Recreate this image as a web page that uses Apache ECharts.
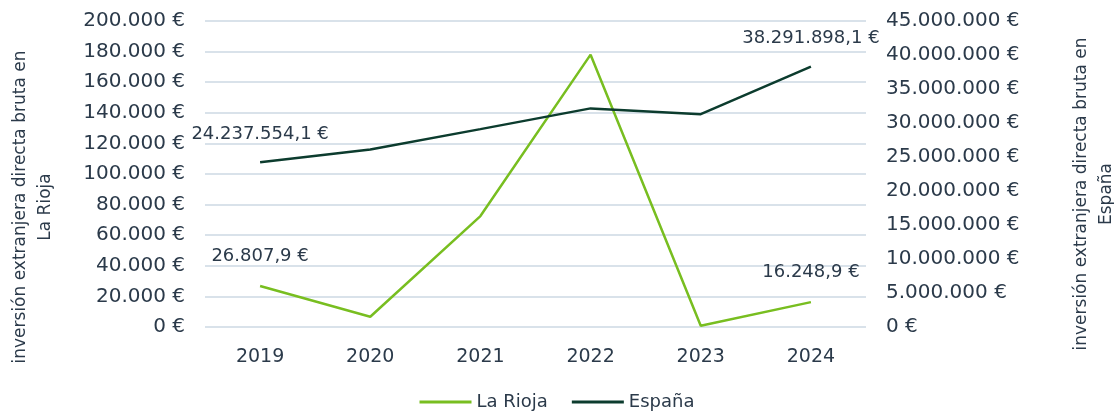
<!DOCTYPE html>
<html>
<head>
<meta charset="utf-8">
<script src="https://cdn.jsdelivr.net/npm/echarts@6/dist/echarts.min.js"></script>
<style>
  html, body { margin: 0; padding: 0; background: #fff; }
  #main { width: 1114px; height: 415px; }
</style>
</head>
<body>
<div id="main"></div>
<script>
// datos
var years = ['2019', '2020', '2021', '2022', '2023', '2024'];
var laRioja = [26807.9, 6700, 72500, 178000, 850, 16248.9];
var espana = [24237554.1, 26100000, 29100000, 32150000, 31300000, 38291898.1];
var leftTicks = { min: 0, max: 200000, interval: 20000 };
var rightTicks = { min: 0, max: 45000000, interval: 5000000 };

var textColor = '#2b3a4a';
var font = 'DejaVu Sans';

function fmt(v, dec) {
    var parts = Number(v).toFixed(dec).split('.');
    var ent = parts[0].replace(/\B(?=(\d{3})+(?!\d))/g, '.');
    return (parts[1] ? ent + ',' + parts[1] : ent) + ' €';
}

// solo se etiquetan el primer y el último punto
function labelFn(p) {
    if (p.dataIndex === 0 || p.dataIndex === years.length - 1) return fmt(p.value, 1);
    return '';
}

var myChart = echarts.init(document.getElementById('main'));
myChart.setOption({
    animation: false,
    textStyle: { fontFamily: font, color: textColor },
    grid: { left: 205, right: 248, top: 21, bottom: 88, containLabel: false, outerBoundsMode: 'none' },
    legend: {
        top: 393,
        left: 'center',
        itemWidth: 52,
        itemHeight: 3,
        itemGap: 24,
        padding: 0,
        icon: 'rect',
        textStyle: { fontSize: 18, color: textColor, fontFamily: font },
        data: ['La Rioja', 'España']
    },
    xAxis: {
        type: 'category',
        data: years,
        axisLine: { show: false },
        axisTick: { show: false },
        axisLabel: { fontSize: 19, color: textColor, margin: 21 }
    },
    yAxis: [
        {
            type: 'value',
            min: leftTicks.min, max: leftTicks.max, interval: leftTicks.interval,
            name: 'inversión extranjera directa bruta en\nLa Rioja',
            nameLocation: 'middle',
            nameRotate: 90,
            nameGap: 147,
            nameTextStyle: { fontSize: 17, color: textColor, lineHeight: 25, padding: [0, 66, 0, 0] },
            axisLabel: { fontSize: 20, color: textColor, margin: 20, formatter: function (v) { return fmt(v, 0); } },
            splitLine: { lineStyle: { color: '#d9e2ea', width: 2 } }
        },
        {
            type: 'value',
            min: rightTicks.min, max: rightTicks.max, interval: rightTicks.interval,
            name: 'inversión extranjera directa bruta en\nEspaña',
            nameLocation: 'middle',
            nameRotate: 90,
            nameGap: 203,
            nameTextStyle: { fontSize: 17, color: textColor, lineHeight: 25, padding: [0, 40, 0, 0] },
            axisLabel: { fontSize: 20, color: textColor, margin: 20, formatter: function (v) { return fmt(v, 0); } },
            splitLine: { show: false }
        }
    ],
    series: [
        {
            name: 'La Rioja',
            type: 'line',
            yAxisIndex: 0,
            data: laRioja,
            symbol: 'circle',
            symbolSize: 0.1,
            showSymbol: true,
            color: '#78be20',
            lineStyle: { width: 2.5 },
            label: { show: true, position: 'top', distance: 21, fontSize: 18, color: textColor, formatter: labelFn }
        },
        {
            name: 'España',
            type: 'line',
            yAxisIndex: 1,
            data: espana,
            symbol: 'circle',
            symbolSize: 0.1,
            showSymbol: true,
            color: '#0c3c2e',
            lineStyle: { width: 2.5 },
            label: { show: true, position: 'top', distance: 19, fontSize: 18, color: textColor, formatter: labelFn }
        }
    ]
});
</script>
</body>
</html>
